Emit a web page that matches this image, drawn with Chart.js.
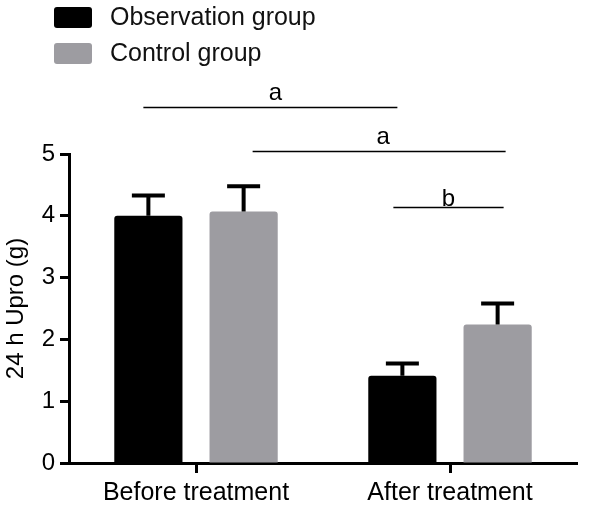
<!DOCTYPE html>
<html>
<head>
<meta charset="utf-8">
<script src="https://cdn.jsdelivr.net/npm/chart.js@4/dist/chart.umd.min.js"></script>
<style>
  html, body { margin: 0; padding: 0; background: #fff; }
  #wrap { width: 600px; height: 508px; position: relative; }
</style>
</head>
<body>
<div id="wrap"><canvas id="c" width="600" height="508"></canvas></div>
<script>
// ---- data ----
const categories = ['Before treatment', 'After treatment'];
const seriesNames = ['Observation group', 'Control group'];
const observation = [4.00, 1.41];
const observationSD = [0.33, 0.20];
const control = [4.07, 2.24];
const controlSD = [0.41, 0.34];
const yTicks = [0, 1, 2, 3, 4, 5];
// significance brackets: [dataset, category] from -> to, level (y units), label
const bracketFrom = [[0, 0], [1, 0], [0, 1]];
const bracketTo = [[0, 1], [1, 1], [1, 1]];
const bracketLevel = [5.76, 5.05, 4.14];
const bracketLabel = ['a', 'a', 'b'];

// ---- styles ----
const FONT = '"Liberation Sans", Arial, Helvetica, sans-serif';
const BLACK = '#000000';
const GRAY = '#9d9ca1';
const bracketDx = [[-5, -5], [9, 8], [-9, 6]];
const bracketLabelGap = [8, 8, 2];
const bracketLabelDx = [5, 4, 0];

const errorBars = {
  id: 'errorBars',
  afterDatasetsDraw(chart) {
    const ctx = chart.ctx;
    const ys = chart.scales.y;
    const sds = [observationSD, controlSD];
    ctx.save();
    ctx.strokeStyle = '#000';
    ctx.lineWidth = 4;
    ctx.lineCap = 'butt';
    chart.data.datasets.forEach((ds, i) => {
      const meta = chart.getDatasetMeta(i);
      meta.data.forEach((el, j) => {
        const v = ds.data[j];
        const top = ys.getPixelForValue(v + sds[i][j]);
        ctx.beginPath();
        ctx.moveTo(el.x, el.y);
        ctx.lineTo(el.x, top);
        ctx.moveTo(el.x - 16.5, top);
        ctx.lineTo(el.x + 16.5, top);
        ctx.stroke();
      });
    });
    ctx.restore();
  }
};

const brackets = {
  id: 'brackets',
  afterDraw(chart) {
    const ctx = chart.ctx;
    const ys = chart.scales.y;
    ctx.save();
    ctx.strokeStyle = '#000';
    ctx.fillStyle = '#000';
    ctx.lineWidth = 1.5;
    ctx.font = '24px ' + FONT;
    ctx.textAlign = 'center';
    ctx.textBaseline = 'alphabetic';
    bracketLevel.forEach((lvl, k) => {
      const a = chart.getDatasetMeta(bracketFrom[k][0]).data[bracketFrom[k][1]];
      const b = chart.getDatasetMeta(bracketTo[k][0]).data[bracketTo[k][1]];
      const x1 = a.x + bracketDx[k][0];
      const x2 = b.x + bracketDx[k][1];
      const y = Math.round(ys.getPixelForValue(lvl)) + 0.5;
      ctx.beginPath();
      ctx.moveTo(x1, y);
      ctx.lineTo(x2, y);
      ctx.stroke();
      ctx.fillText(bracketLabel[k], (x1 + x2) / 2 + bracketLabelDx[k], y - bracketLabelGap[k]);
    });
    ctx.restore();
  }
};

const customLegend = {
  id: 'customLegend',
  afterDraw(chart) {
    const ctx = chart.ctx;
    ctx.save();
    ctx.font = '25px ' + FONT;
    ctx.textBaseline = 'middle';
    ctx.textAlign = 'left';
    chart.data.datasets.forEach((ds, i) => {
      const top = 7 + i * 36;
      ctx.fillStyle = ds.backgroundColor;
      ctx.beginPath();
      ctx.roundRect(54, top, 38, 21, 3);
      ctx.fill();
      ctx.fillStyle = '#111';
      ctx.fillText(ds.label, 110, top + 11);
    });
    ctx.restore();
  }
};

new Chart(document.getElementById('c'), {
  type: 'bar',
  data: {
    labels: categories,
    datasets: [
      { label: seriesNames[0], data: observation, backgroundColor: BLACK,
        borderRadius: { topLeft: 3, topRight: 3 }, borderSkipped: 'bottom' },
      { label: seriesNames[1], data: control, backgroundColor: GRAY,
        borderRadius: { topLeft: 3, topRight: 3 }, borderSkipped: 'bottom' }
    ]
  },
  options: {
    responsive: false,
    animation: false,
    devicePixelRatio: 1,
    layout: { padding: { top: 154, right: 23, left: 0, bottom: 0 } },
    datasets: { bar: { categoryPercentage: 0.75, barPercentage: 0.716 } },
    plugins: { legend: { display: false }, tooltip: { enabled: false } },
    scales: {
      x: {
        offset: true,
        grid: { display: true, drawOnChartArea: false, offset: false, drawTicks: true,
                tickLength: 10, tickWidth: 3, tickColor: '#000' },
        border: { display: true, color: '#000', width: 3 },
        ticks: { color: '#000', font: { family: FONT, size: 25 }, padding: 5, maxRotation: 0 },
        afterFit(s) { s.height = 45; }
      },
      y: {
        min: 0, max: 5,
        afterBuildTicks(s) { s.ticks = yTicks.map(v => ({ value: v })); },
        grid: { display: true, drawOnChartArea: false, drawTicks: true,
                tickLength: 9, tickWidth: 3, tickColor: '#000' },
        border: { display: true, color: '#000', width: 3 },
        ticks: { color: '#000', font: { family: FONT, size: 24 }, padding: 5 },
        title: { display: true, text: '24 h Upro (g)', color: '#000',
                 font: { family: FONT, size: 24 }, padding: { top: 2, bottom: 2 } },
        afterFit(s) { s.width = 69; }
      }
    }
  },
  plugins: [errorBars, brackets, customLegend]
});
</script>
</body>
</html>
